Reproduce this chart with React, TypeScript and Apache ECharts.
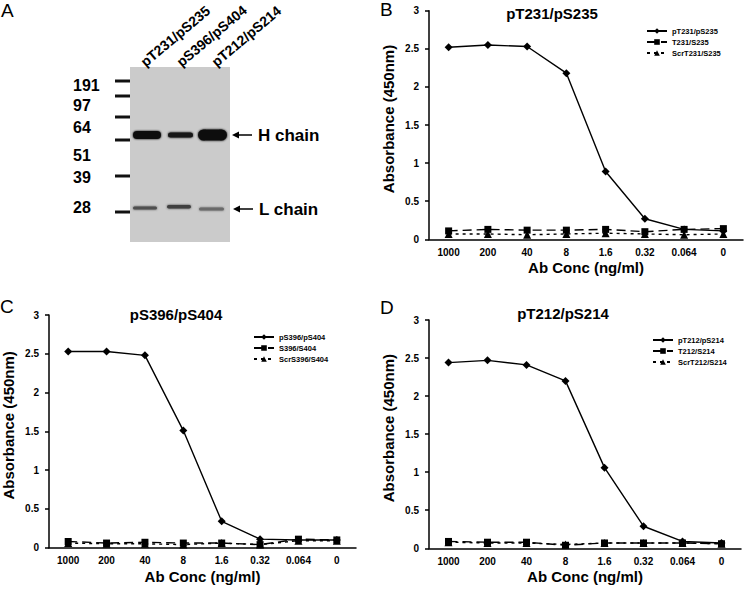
import React, { useEffect, useRef } from "react";
import * as echarts from "echarts";

const FONT = "'Liberation Sans', Arial, sans-serif";

const categories = ["1000", "200", "40", "8", "1.6", "0.32", "0.064", "0"];

const bNames = ["pT231/pS235", "T231/S235", "ScrT231/S235"];
const bMain = [2.52, 2.55, 2.53, 2.18, 0.89, 0.27, 0.13, 0.11];
const bNon = [0.11, 0.13, 0.12, 0.12, 0.13, 0.1, 0.13, 0.14];
const bScr = [0.07, 0.07, 0.06, 0.07, 0.08, 0.07, 0.06, 0.07];

const cNames = ["pS396/pS404", "S396/S404", "ScrS396/S404"];
const cMain = [2.53, 2.53, 2.48, 1.51, 0.34, 0.11, 0.1, 0.1];
const cNon = [0.08, 0.06, 0.07, 0.06, 0.06, 0.04, 0.11, 0.1];
const cScr = [0.06, 0.05, 0.05, 0.04, 0.06, 0.04, 0.09, 0.09];

const dNames = ["pT212/pS214", "T212/S214", "ScrT212/S214"];
const dMain = [2.44, 2.47, 2.41, 2.2, 1.06, 0.29, 0.09, 0.07];
const dNon = [0.09, 0.08, 0.08, 0.04, 0.07, 0.07, 0.07, 0.06];
const dScr = [0.08, 0.07, 0.07, 0.05, 0.07, 0.07, 0.07, 0.06];

const mwLabels = ["191", "97", "64", "51", "39", "28"];
const laneLabels = ["pT231/pS235", "pS396/pS404", "pT212/pS214"];
const bandLabels = ["H chain", "L chain"];

const yTitle = "Absorbance (450nm)";
const xTitle = "Ab Conc (ng/ml)";

// layout (pixels)
const grids = [
  { left: 429, top: 10.7, width: 314, height: 228.6 },
  { left: 39, top: 315, width: 317, height: 232.7 },
  { left: 429, top: 320, width: 312, height: 228.3 },
];
const titlePos = [
  [552, 13],
  [176, 314],
  [563, 313],
];
const legendPos = [
  [646, 27],
  [253, 333],
  [652, 336],
];
const mwMarkY = [81, 96, 117, 140, 176, 212];
const mwLabelY = [85, 105.5, 127, 155, 177, 207];

export default function App() {
  const ref = useRef<HTMLDivElement>(null);
  useEffect(() => {
    if (!ref.current) return;
    const chart = echarts.init(ref.current, undefined, { renderer: "svg" });
    const sets = [
      { names: bNames, data: [bMain, bNon, bScr] },
      { names: cNames, data: [cMain, cNon, cScr] },
      { names: dNames, data: [dMain, dNon, dScr] },
    ];
    const axisColor = "#000";
    const xAxes = grids.map((_, i) => ({
      type: "category",
      gridIndex: i,
      data: categories,
      boundaryGap: true,
      axisLine: { lineStyle: { color: axisColor, width: 1.5 } },
      axisTick: { alignWithLabel: true, length: 5, lineStyle: { color: axisColor, width: 1.5 } },
      axisLabel: { color: "#000", fontSize: 10, fontWeight: "bold", fontFamily: FONT, margin: 8 },
      splitLine: { show: false },
      name: xTitle,
      nameLocation: "middle",
      nameGap: 21,
      nameTextStyle: { color: "#000", fontSize: 15, fontWeight: "bold", fontFamily: FONT },
    }));
    const yAxes = grids.map((_, i) => ({
      type: "value",
      gridIndex: i,
      min: 0,
      max: 3,
      interval: 0.5,
      axisLine: { show: true, lineStyle: { color: axisColor, width: 1.5 } },
      axisTick: { show: true, length: 4, lineStyle: { color: axisColor, width: 1.5 } },
      axisLabel: { color: "#000", fontSize: 10, fontWeight: "bold", fontFamily: FONT, margin: 10 },
      splitLine: { show: false },
      name: yTitle,
      nameLocation: "middle",
      nameGap: 33,
      nameTextStyle: {
        color: "#000",
        fontSize: 15,
        fontWeight: "bold",
        fontFamily: FONT,
        padding: [0, 0, 0, 12],
      },
    }));
    const series: any[] = [];
    sets.forEach((s, i) => {
      const styles = [
        { symbol: "diamond", size: 8, type: "solid" as any },
        { symbol: "rect", size: 7, type: [9, 5] as any },
        { symbol: "triangle", size: 8, type: [3, 4] as any },
      ];
      s.names.forEach((name, k) => {
        series.push({
          type: "line",
          name,
          xAxisIndex: i,
          yAxisIndex: i,
          data: s.data[k],
          symbol: styles[k].symbol,
          symbolSize: styles[k].size,
          lineStyle: { color: "#000", width: 1.4, type: styles[k].type },
          itemStyle: { color: "#000" },
          z: 3 - k,
        });
      });
    });
    const legends = sets.map((s, i) => ({
      data: s.names,
      orient: "vertical",
      left: legendPos[i][0],
      top: legendPos[i][1],
      itemWidth: 20,
      itemHeight: 7,
      itemGap: 3,
      padding: 0,
      textStyle: { color: "#000", fontSize: 7.5, fontWeight: "bold", fontFamily: FONT },
    }));

    const graphics: any[] = [];
    const txt = (x: number, y: number, text: string, size: number, weight: string, align = "left", vAlign = "middle", rotation = 0) => ({
      type: "text",
      x,
      y,
      rotation,
      style: {
        text,
        fontSize: size,
        fontWeight: weight,
        fontFamily: FONT,
        fill: "#000",
        align,
        verticalAlign: vAlign,
      },
    });
    // panel letters
    graphics.push(txt(1, 10, "A", 19, "normal"));
    graphics.push(txt(380, 9, "B", 19, "normal"));
    graphics.push(txt(0, 306, "C", 19, "normal"));
    graphics.push(txt(380, 307, "D", 19, "normal"));
    // chart titles
    sets.forEach((s, i) => {
      graphics.push(txt(titlePos[i][0], titlePos[i][1], s.names[0], 15, "bold", "center"));
    });
    // blot
    graphics.push({ type: "rect", shape: { x: 130, y: 67, width: 100, height: 175 }, style: { fill: "#cbcbcb" } });
    const hb = [
      { x: 133, y: 131, w: 28, h: 8, c: "#111" },
      { x: 168, y: 132.5, w: 25, h: 5, c: "#151515" },
      { x: 198, y: 129.5, w: 29, h: 11, c: "#0d0d0d" },
      { x: 133, y: 206.5, w: 24, h: 3, c: "#505050" },
      { x: 167, y: 205, w: 24, h: 3.5, c: "#404040" },
      { x: 199, y: 207.5, w: 25, h: 3, c: "#6a6a6a" },
    ];
    hb.forEach((b) =>
      graphics.push({
        type: "rect",
        shape: { x: b.x, y: b.y, width: b.w, height: b.h, r: b.h / 2 },
        style: { fill: b.c, shadowBlur: 2, shadowColor: b.c },
      })
    );
    mwMarkY.forEach((y) =>
      graphics.push({ type: "rect", shape: { x: 115, y: y - 1.5, width: 15, height: 3 }, style: { fill: "#111" } })
    );
    mwLabels.forEach((t, i) => graphics.push(txt(73, mwLabelY[i], t, 16, "bold")));
    // lane labels
    const laneX = [147, 183, 218];
    laneLabels.forEach((t, i) =>
      graphics.push(txt(laneX[i], 69, t, 14, "bold", "left", "bottom", (40 * Math.PI) / 180))
    );
    // arrows
    const arrowY = [135, 209];
    const arrowX = [232, 233];
    arrowY.forEach((y, i) => {
      graphics.push({
        type: "line",
        shape: { x1: arrowX[i] + 5, y1: y, x2: arrowX[i] + 20, y2: y },
        style: { stroke: "#000", lineWidth: 1.5 },
      });
      graphics.push({
        type: "polygon",
        shape: { points: [[arrowX[i], y], [arrowX[i] + 7, y - 3.5], [arrowX[i] + 7, y + 3.5]] },
        style: { fill: "#000" },
      });
      graphics.push(txt(arrowX[i] + 26, y, bandLabels[i], 17, "bold"));
    });

    chart.setOption({
      animation: false,
      backgroundColor: "#fff",
      textStyle: { fontFamily: FONT },
      grid: grids.map((g) => ({ ...g, containLabel: false })),
      xAxis: xAxes,
      yAxis: yAxes,
      legend: legends,
      series,
      graphic: graphics,
    });
    return () => chart.dispose();
  }, []);
  return (
    <div
      ref={ref}
      style={{ position: "absolute", left: 0, top: 0, width: 745, height: 592, background: "#fff" }}
    />
  );
}
